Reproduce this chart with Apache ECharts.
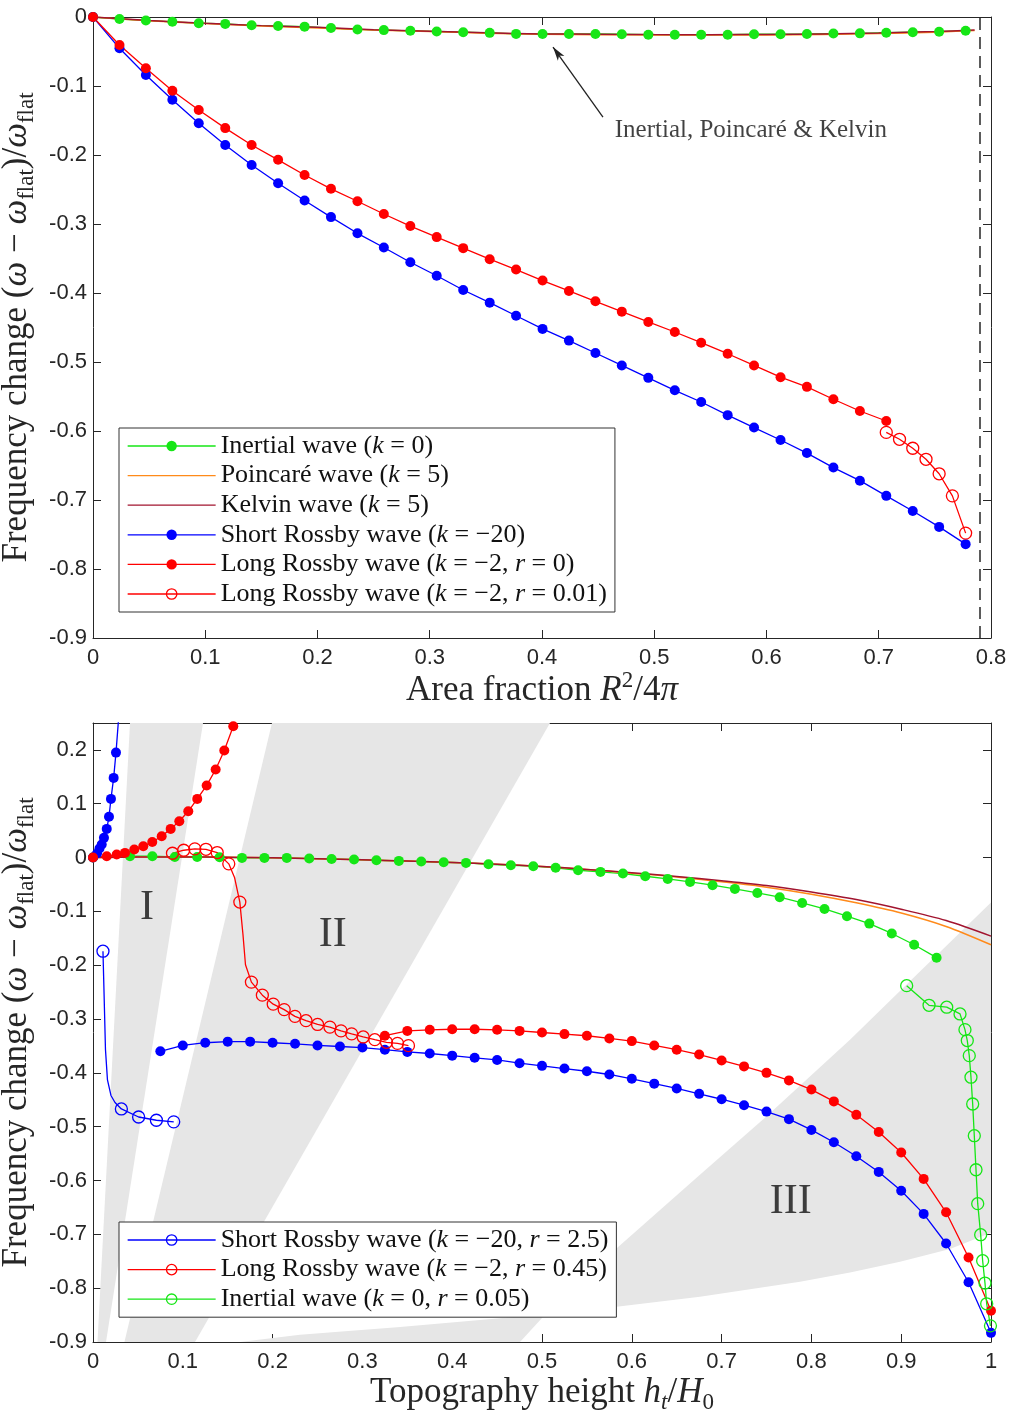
<!DOCTYPE html>
<html><head><meta charset="utf-8">
<script src="https://cdn.jsdelivr.net/npm/echarts@6/dist/echarts.min.js"></script>
<style>html,body{margin:0;padding:0;background:#fff}#c{width:1011px;height:1410px}</style>
</head><body><div id="c"></div>
<script>
// ================= TOP PANEL DATA (x = area fraction R^2/4π) =================
const topX = [0, 0.0236, 0.0471, 0.0707, 0.0942, 0.1178, 0.1413, 0.1649, 0.1885, 0.2120, 0.2356, 0.2591, 0.2827, 0.3062, 0.3298, 0.3534, 0.3769, 0.4005, 0.4240, 0.4476, 0.4711, 0.4947, 0.5183, 0.5418, 0.5654, 0.5889, 0.6125, 0.6360, 0.6596, 0.6832, 0.7067, 0.7303, 0.7538, 0.7774];
const inertialTop = [0, -0.003, -0.005, -0.007, -0.009, -0.010, -0.012, -0.013, -0.014, -0.016, -0.018, -0.019, -0.020, -0.021, -0.022, -0.023, -0.0245, -0.0246, -0.0246, -0.0246, -0.025, -0.0256, -0.0256, -0.0256, -0.0256, -0.025, -0.025, -0.0246, -0.024, -0.0237, -0.0227, -0.022, -0.0213, -0.0198];
const shortRossbyTop = [0, -0.0454, -0.084, -0.120, -0.154, -0.1855, -0.2145, -0.241, -0.266, -0.290, -0.3135, -0.334, -0.3555, -0.375, -0.3957, -0.414, -0.433, -0.452, -0.469, -0.487, -0.505, -0.523, -0.541, -0.558, -0.577, -0.595, -0.613, -0.632, -0.653, -0.672, -0.694, -0.716, -0.739, -0.764];
const longRossbyTop = [0, -0.0406, -0.0744, -0.1068, -0.1348, -0.161, -0.1855, -0.207, -0.229, -0.249, -0.267, -0.2855, -0.303, -0.319, -0.335, -0.351, -0.366, -0.382, -0.397, -0.412, -0.427, -0.442, -0.4565, -0.472, -0.488, -0.505, -0.522, -0.536, -0.554, -0.571, -0.5855];
const longRossbyR001X = [0.7067, 0.7185, 0.7303, 0.7421, 0.7538, 0.7656, 0.7774];
const longRossbyR001 = [-0.602, -0.612, -0.625, -0.641, -0.662, -0.694, -0.748];
const waveTopX = [0, 0.05, 0.1, 0.15, 0.2, 0.25, 0.3, 0.35, 0.4, 0.45, 0.5, 0.55, 0.6, 0.65, 0.7, 0.75, 0.7854];
const poincareTop = [0, -0.0055, -0.0095, -0.013, -0.016, -0.019, -0.021, -0.0235, -0.025, -0.0257, -0.026, -0.0262, -0.026, -0.0252, -0.024, -0.022, -0.0195];
const kelvinTop = [0, -0.005, -0.009, -0.0125, -0.015, -0.0185, -0.0205, -0.023, -0.0245, -0.025, -0.0255, -0.0256, -0.0253, -0.0245, -0.0232, -0.021, -0.019];
const areaLimit = 0.7854;
const arrowTail = [0.4543, -0.145];
const arrowTip = [0.4098, -0.0435];
const annotationText = 'Inertial, Poincaré & Kelvin';
const annotationAt = [0.4644, -0.164];

// ================= BOTTOM PANEL DATA (x = topography height h_t/H_0) =================
const inertialBotX = [0, 0.0412, 0.0661, 0.0911, 0.116, 0.141, 0.1659, 0.1909, 0.2158, 0.2408, 0.2657, 0.2907, 0.3156, 0.3406, 0.3655, 0.3905, 0.4154, 0.4404, 0.4653, 0.4903, 0.5152, 0.5402, 0.5651, 0.5901, 0.615, 0.64, 0.6649, 0.6899, 0.7148, 0.7398, 0.7647, 0.7897, 0.8146, 0.8396, 0.8645, 0.8895, 0.9144, 0.9394];
const inertialBot = [0, 0.0025, 0.0025, 0.0012, 0.0012, 0.0006, -0.0006, -0.0006, -0.0006, -0.0019, -0.0025, -0.0037, -0.005, -0.0062, -0.0074, -0.0087, -0.0099, -0.0124, -0.0143, -0.016, -0.019, -0.0236, -0.0266, -0.0297, -0.0347, -0.0396, -0.0452, -0.0514, -0.0582, -0.0657, -0.0737, -0.0843, -0.0954, -0.109, -0.1227, -0.141, -0.162, -0.186];
const waveBotX = [0, 0.05, 0.1, 0.15, 0.2, 0.25, 0.3, 0.35, 0.4, 0.45, 0.5, 0.55, 0.6, 0.65, 0.7, 0.75, 0.8, 0.85, 0.9, 0.95, 1.0];
const poincareBot = [0, 0.001, 0.001, 0.0005, -0.0005, -0.002, -0.004, -0.0065, -0.009, -0.0125, -0.0165, -0.022, -0.029, -0.036, -0.045, -0.055, -0.068, -0.084, -0.103, -0.128, -0.162];
const kelvinBot = [0, 0.001, 0.001, 0.0005, -0.0005, -0.002, -0.004, -0.0065, -0.009, -0.0125, -0.0165, -0.022, -0.028, -0.035, -0.043, -0.052, -0.064, -0.078, -0.096, -0.117, -0.146];
const shortRossbyBotAX = [0, 0.0045, 0.0072, 0.0097, 0.0122, 0.0153, 0.0178, 0.02, 0.023, 0.0256, 0.0284];
const shortRossbyBotA = [0, 0.0074, 0.0167, 0.0242, 0.0366, 0.0533, 0.0757, 0.109, 0.148, 0.195, 0.256];
const shortRossbyBotBX = [0.075, 0.1, 0.125, 0.15, 0.175, 0.2, 0.225, 0.25, 0.275, 0.3, 0.325, 0.35, 0.375, 0.4, 0.425, 0.45, 0.475, 0.5, 0.525, 0.55, 0.575, 0.6, 0.625, 0.65, 0.675, 0.7, 0.725, 0.75, 0.775, 0.8, 0.825, 0.85, 0.875, 0.9, 0.925, 0.95, 0.975, 1.0];
const shortRossbyBotB = [-0.360, -0.349, -0.344, -0.342, -0.342, -0.344, -0.346, -0.349, -0.351, -0.353, -0.357, -0.361, -0.364, -0.368, -0.372, -0.376, -0.382, -0.387, -0.392, -0.397, -0.403, -0.411, -0.420, -0.429, -0.439, -0.449, -0.460, -0.472, -0.486, -0.506, -0.529, -0.555, -0.584, -0.619, -0.662, -0.717, -0.789, -0.883];
const longRossbyBotAX = [0, 0.0153, 0.0264, 0.0356, 0.046, 0.056, 0.066, 0.0765, 0.0865, 0.0961, 0.1061, 0.1161, 0.1266, 0.1366, 0.1462, 0.1562, 0.166];
const longRossbyBotA = [0, 0.0024, 0.0056, 0.0087, 0.0149, 0.021, 0.029, 0.0396, 0.0533, 0.0675, 0.086, 0.109, 0.134, 0.1636, 0.199, 0.244, 0.295];
const longRossbyBotBX = [0.325, 0.35, 0.375, 0.4, 0.425, 0.45, 0.475, 0.5, 0.525, 0.55, 0.575, 0.6, 0.625, 0.65, 0.675, 0.7, 0.725, 0.75, 0.775, 0.8, 0.825, 0.85, 0.875, 0.9, 0.925, 0.95, 0.975, 1.0];
const longRossbyBotB = [-0.331, -0.322, -0.320, -0.319, -0.319, -0.320, -0.322, -0.325, -0.328, -0.331, -0.336, -0.341, -0.349, -0.357, -0.366, -0.377, -0.388, -0.400, -0.414, -0.431, -0.453, -0.478, -0.510, -0.548, -0.597, -0.659, -0.743, -0.842];
// open-marker (damped) curves; flag 1 = marker drawn at that point
const shortR25X = [0.0111, 0.0122, 0.0139, 0.0161, 0.02, 0.0245, 0.0316, 0.0508, 0.0706, 0.0899];
const shortR25 = [-0.174, -0.245, -0.357, -0.413, -0.442, -0.455, -0.467, -0.482, -0.488, -0.491];
const shortR25M = [1, 0, 0, 0, 0, 0, 1, 1, 1, 1];
const longR045X = [0.0885, 0.101, 0.1134, 0.1258, 0.1383, 0.1512, 0.1576, 0.1635, 0.167, 0.1698, 0.1764, 0.1886, 0.2007, 0.2129, 0.2249, 0.2372, 0.2501, 0.2638, 0.2762, 0.288, 0.3009, 0.3138, 0.3268, 0.3391, 0.3513];
const longR045 = [0.008, 0.0136, 0.0162, 0.0154, 0.0093, -0.0117, -0.037, -0.0827, -0.143, -0.199, -0.2314, -0.2556, -0.2723, -0.2825, -0.295, -0.303, -0.310, -0.315, -0.322, -0.3275, -0.3333, -0.3383, -0.3432, -0.3452, -0.3494];
const longR045M = [1, 1, 1, 1, 1, 1, 0, 1, 0, 0, 1, 1, 1, 1, 1, 1, 1, 1, 1, 1, 1, 1, 1, 1, 1];
const inertialR005X = [0.9061, 0.931, 0.9507, 0.9655, 0.971, 0.9736, 0.9758, 0.9777, 0.9796, 0.9814, 0.9833, 0.9852, 0.9885, 0.9907, 0.9933, 0.9952, 0.9994];
const inertialR005 = [-0.238, -0.2745, -0.278, -0.2905, -0.3197, -0.340, -0.368, -0.408, -0.4578, -0.5167, -0.580, -0.643, -0.7007, -0.749, -0.7905, -0.829, -0.870];
// shaded regimes I, II, III (polygon vertices in data space)
const regimeI = [[0.005, -0.9], [0.0145, -0.9], [0.1225, 0.25], [0.0412, 0.25]];
const regimeII = [[0.035, -0.9], [0.1136, -0.9], [0.5089, 0.25], [0.1993, 0.25]];
const regimeIII = [[0.1637, -0.9], [0.2305, -0.8866], [0.3419, -0.872], [0.4532, -0.856], [0.5646, -0.838], [0.6759, -0.816], [0.7873, -0.788], [0.843, -0.771], [0.8987, -0.751], [0.9543, -0.727], [1.0, -0.697], [1.0, -0.0836], [0.9209, -0.2119], [0.843, -0.3383], [0.7483, -0.4833], [0.6759, -0.5892], [0.6091, -0.6877], [0.5535, -0.7695], [0.5033, -0.8494], [0.4755, -0.9]];
const regimeLabels = ['I', 'II', 'III'];
const regimeLabelAt = [[0.060, -0.093], [0.267, -0.143], [0.777, -0.639]];

// tick settings
const xTopMax = 0.8, xBotMax = 1, yMin = -0.9, yTopMax = 0, yBotMax = 0.25, tickStep = 0.1;

// ================= styling helpers =================
const GREEN = '#16e616', BLUE = '#0000ff', RED = '#ff0000', ORANGE = '#ff8a1a', MAROON = '#a2142f';
const SERIF = 'Liberation Serif', SANS = 'Liberation Sans';
const pts = (xs, ys) => xs.map((x, i) => [x, ys[i]]);
const flagged = (xs, ys, ms) => xs.map((x, i) => ms[i] ? [x, ys[i]] : { value: [x, ys[i]], symbol: 'none' });
function closedLine(name, data, color, g) {
  return { type: 'line', name, xAxisIndex: g * 2, yAxisIndex: g * 2, data, symbol: 'circle', symbolSize: 10,
    showAllSymbol: true, itemStyle: { color }, lineStyle: { color, width: 1.3 }, clip: true,
    emphasis: { disabled: true }, animation: false };
}
function openLine(name, data, color, g) {
  return { type: 'line', name, xAxisIndex: g * 2, yAxisIndex: g * 2, data, symbol: 'circle', symbolSize: 12,
    showAllSymbol: true, itemStyle: { color: 'rgba(0,0,0,0)', borderColor: color, borderWidth: 1.3 },
    lineStyle: { color, width: 1.3 }, clip: true, emphasis: { disabled: true }, animation: false };
}
function plainLine(name, data, color, g) {
  return { type: 'line', name, xAxisIndex: g * 2, yAxisIndex: g * 2, data, symbol: 'none', smooth: 0.3,
    itemStyle: { color }, lineStyle: { color, width: 1.5 }, clip: true, emphasis: { disabled: true }, animation: false };
}
const axisBase = {
  type: 'value', axisLine: { show: true, onZero: false, lineStyle: { color: '#262626', width: 1 } },
  axisTick: { show: true, inside: true, length: 8, lineStyle: { color: '#262626', width: 1 } },
  splitLine: { show: false }, minorTick: { show: false },
  axisLabel: { fontFamily: SANS, fontSize: 22, color: '#262626' }
};
const richT = {
  t: { fontFamily: SERIF, fontSize: 35, lineHeight: 42, color: '#262626' },
  it: { fontFamily: SERIF, fontSize: 35, lineHeight: 42, fontStyle: 'italic', color: '#262626' },
  sup: { fontFamily: SERIF, fontSize: 23, lineHeight: 21, verticalAlign: 'top', color: '#262626' },
  sub: { fontFamily: SERIF, fontSize: 23, lineHeight: 19, verticalAlign: 'bottom', color: '#262626' },
  subi: { fontFamily: SERIF, fontSize: 23, lineHeight: 19, verticalAlign: 'bottom', fontStyle: 'italic', color: '#262626' }
};
const yTitle = '{t|Frequency change (}{it|ω}{t| − }{it|ω}{sub|flat}{t|)/}{it|ω}{sub|flat}';
function xAx(grid, max, pos, name) {
  const a = Object.assign({}, axisBase, { gridIndex: grid, min: 0, max, interval: tickStep, position: pos });
  if (name) {
    a.name = name; a.nameLocation = 'middle'; a.nameGap = 30; a.nameTextStyle = { rich: richT };
    a.axisLabel = Object.assign({}, axisBase.axisLabel, { margin: 9 });
  } else a.axisLabel = { show: false };
  return a;
}
function yAx(grid, max, pos, named) {
  const a = Object.assign({}, axisBase, { gridIndex: grid, min: yMin, max, interval: tickStep, position: pos });
  if (named) {
    a.name = yTitle; a.nameLocation = 'middle'; a.nameRotate = 90; a.nameGap = 40; a.nameTextStyle = { rich: richT };
    a.axisLabel = Object.assign({}, axisBase.axisLabel, { margin: 6, showMaxLabel: max === 0 });
  } else a.axisLabel = { show: false };
  return a;
}
const legendRich = { i: { fontFamily: SERIF, fontSize: 26, lineHeight: 26, fontStyle: 'italic', color: '#111' } };
const legendFmt = n => n.replace(/\(k/g, '({i|k}').replace(/, r/g, ', {i|r}');
const legendBase = {
  orient: 'vertical', itemWidth: 88, itemHeight: 13, itemGap: 3.6, padding: [5, 8, 5, 8],
  borderColor: '#333', borderWidth: 1, backgroundColor: '#fff', selectedMode: false,
  lineStyle: { width: 1.3 }, itemStyle: { borderWidth: 1.3 },
  textStyle: { fontFamily: SERIF, fontSize: 26, lineHeight: 26, color: '#111', rich: legendRich },
  formatter: legendFmt
};

const N = {
  in0: 'Inertial wave (k = 0)', po: 'Poincaré wave (k = 5)', ke: 'Kelvin wave (k = 5)',
  sr: 'Short Rossby wave (k = −20)', lr0: 'Long Rossby wave (k = −2, r = 0)', lr001: 'Long Rossby wave (k = −2, r = 0.01)',
  sr25: 'Short Rossby wave (k = −20, r = 2.5)', lr045: 'Long Rossby wave (k = −2, r = 0.45)', in005: 'Inertial wave (k = 0, r = 0.05)'
};
const regimes = [regimeI, regimeII, regimeIII];

const series = [
  // ---- top panel ----
  Object.assign(closedLine(N.in0, pts(topX, inertialTop), GREEN, 0), {
    markLine: { silent: true, symbol: 'none', animation: false, label: { show: false },
      lineStyle: { type: [12, 7], color: '#262626', width: 1.5 }, data: [{ xAxis: areaLimit }] } }),
  plainLine(N.po, pts(waveTopX, poincareTop), ORANGE, 0),
  plainLine(N.ke, pts(waveTopX, kelvinTop), MAROON, 0),
  closedLine(N.sr, pts(topX, shortRossbyTop), BLUE, 0),
  closedLine(N.lr0, pts(topX.slice(0, longRossbyTop.length), longRossbyTop), RED, 0),
  openLine(N.lr001, pts(longRossbyR001X, longRossbyR001), RED, 0),
  { type: 'scatter', name: 'annotation', xAxisIndex: 0, yAxisIndex: 0, silent: true, animation: false,
    symbolSize: 1, itemStyle: { color: 'rgba(0,0,0,0)' },
    data: [{ name: annotationText, value: annotationAt }],
    label: { show: true, position: 'right', distance: 0, formatter: '{b}', fontFamily: SERIF, fontSize: 25, color: '#111' },
    markLine: { silent: true, animation: false, symbol: ['none', 'arrow'], symbolSize: [6, 14], label: { show: false },
      lineStyle: { type: 'solid', color: '#222', width: 1.3 },
      data: [[{ coord: arrowTail }, { coord: arrowTip }]] } },
  // ---- bottom panel ----
  { type: 'custom', name: 'regimes', xAxisIndex: 2, yAxisIndex: 2, silent: true, animation: false, clip: true, z: 1,
    data: regimes.map((r, i) => [i, 0]),
    renderItem: (params, api) => ({ type: 'polygon', shape: { points: regimes[params.dataIndex].map(p => api.coord(p)) },
      style: { fill: '#e6e6e6' } }) },
  closedLine('Inertial wave bottom', pts(inertialBotX, inertialBot), GREEN, 1),
  plainLine('Poincaré wave bottom', pts(waveBotX, poincareBot), ORANGE, 1),
  plainLine('Kelvin wave bottom', pts(waveBotX, kelvinBot), MAROON, 1),
  closedLine('Short Rossby bottom A', pts(shortRossbyBotAX, shortRossbyBotA), BLUE, 1),
  closedLine('Short Rossby bottom B', pts(shortRossbyBotBX, shortRossbyBotB), BLUE, 1),
  closedLine('Long Rossby bottom A', pts(longRossbyBotAX, longRossbyBotA), RED, 1),
  closedLine('Long Rossby bottom B', pts(longRossbyBotBX, longRossbyBotB), RED, 1),
  openLine(N.sr25, flagged(shortR25X, shortR25, shortR25M), BLUE, 1),
  openLine(N.lr045, flagged(longR045X, longR045, longR045M), RED, 1),
  openLine(N.in005, pts(inertialR005X, inertialR005), GREEN, 1),
  { type: 'scatter', name: 'regime labels', xAxisIndex: 2, yAxisIndex: 2, silent: true, animation: false, z: 5,
    symbolSize: 1, itemStyle: { color: 'rgba(0,0,0,0)' },
    data: regimeLabels.map((t, i) => ({ name: t, value: regimeLabelAt[i] })),
    label: { show: true, position: 'inside', formatter: '{b}', fontFamily: SERIF, fontSize: 42, color: '#111' } }
];

const option = {
  animation: false, backgroundColor: '#ffffff',
  textStyle: { fontFamily: SANS },
  grid: [
    { left: 93, top: 17, width: 898, height: 621, outerBoundsMode: 'none', containLabel: false },
    { left: 93, top: 723, width: 898, height: 619, outerBoundsMode: 'none', containLabel: false }
  ],
  xAxis: [
    xAx(0, xTopMax, 'bottom', '{t|Area fraction }{it|R}{sup|2}{t|/4}{it|π}'),
    xAx(0, xTopMax, 'top', null),
    xAx(1, xBotMax, 'bottom', '{t|Topography height }{it|h}{subi|t}{t|/}{it|H}{sub|0}'),
    xAx(1, xBotMax, 'top', null)
  ],
  yAxis: [
    yAx(0, yTopMax, 'left', true), yAx(0, yTopMax, 'right', false),
    yAx(1, yBotMax, 'left', true), yAx(1, yBotMax, 'right', false)
  ],
  legend: [
    Object.assign({}, legendBase, { left: 119, top: 428,
      data: [N.in0, { name: N.po, itemStyle: { opacity: 0 } }, { name: N.ke, itemStyle: { opacity: 0 } }, N.sr, N.lr0, N.lr001] }),
    Object.assign({}, legendBase, { left: 119, top: 1222, data: [N.sr25, N.lr045, N.in005] })
  ],
  series
};
const chart = echarts.init(document.getElementById('c'), null, { renderer: 'canvas' });
chart.setOption(option);
</script></body></html>
